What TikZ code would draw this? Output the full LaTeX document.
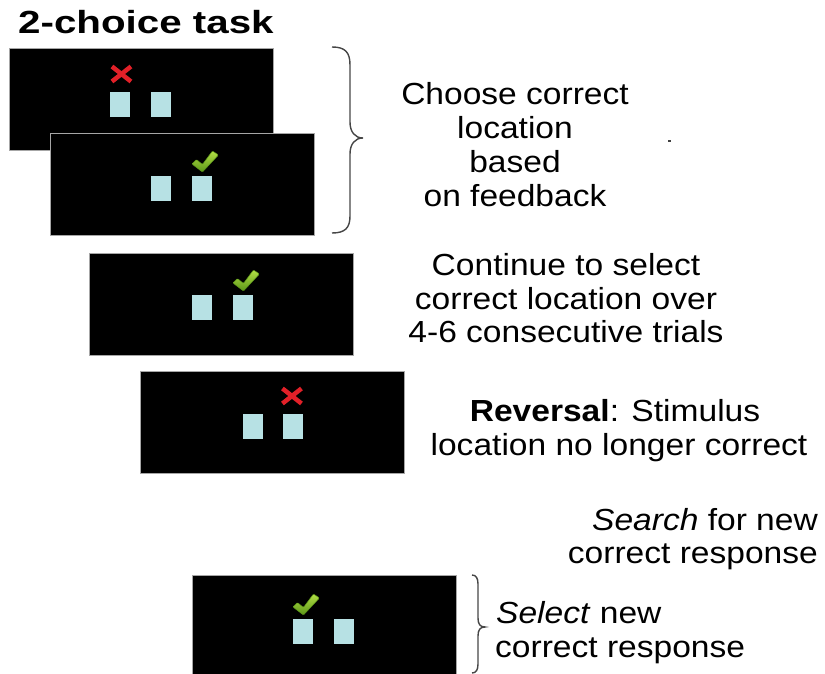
\documentclass[tikz,border=0pt]{standalone}
\usepackage{fontspec}
\setmainfont{Liberation Sans}[FakeStretch=1.1]
\newfontfamily\titlefont{Liberation Sans}[FakeStretch=1.26]
\usetikzlibrary{calc}
\definecolor{sqcol}{RGB}{183,225,228}
\definecolor{xred}{RGB}{226,32,40}
\definecolor{chkA}{RGB}{178,222,70}
\definecolor{chkB}{RGB}{92,150,24}
\definecolor{bracecol}{RGB}{70,70,70}
\tikzset{
  panel/.style={draw=gray!70, line width=0.7pt, fill=black, minimum width=264pt, minimum height=102pt, inner sep=0pt, anchor=north west},
  sq/.style={fill=sqcol, draw=none, minimum width=19.5pt, minimum height=24.5pt, inner sep=0pt, anchor=north west},
  txt/.style={inner sep=0pt, font=\fontsize{30.5}{33.7}\selectfont},
  ttl/.style={inner sep=0pt, font=\titlefont\bfseries\fontsize{32}{36}\selectfont},
  bracestyle/.style={draw=bracecol, line width=1.4pt},
  crosspic/.pic={
    \draw[xred, line width=4.5pt] (-9.5,-7.5) -- (9.5,7.5);
    \draw[xred, line width=4.5pt] (-9.5,7.5) -- (9.5,-7.5);
  },
  checkpic/.pic={
    \shade[top color=chkA, bottom color=chkB, draw=chkB, line width=0.5pt, rounded corners=1pt]
      (0,0) -- (-10.5,-8) -- (-6,-12.5) -- (0,-7.5) -- (10,-21) -- (16,-17) -- cycle;
  }
}
\begin{document}
\begin{tikzpicture}[x=1pt, y=-1pt]
\useasboundingbox (0,0) rectangle (825,674);

% title
\node[ttl, anchor=base west] (title) at (18,33.5) {2-choice task};

% panel 1
\node[panel] (p1) at (9,48) {};
\node[sq] (p1l) at ($(p1.north west)+(101,44)$) {};
\node[sq] (p1r) at ($(p1.north west)+(142,44)$) {};
\pic at ($(p1l.north)+(1.5,-18)$) {crosspic};

% panel 2
\node[panel] (p2) at (50,133) {};
\node[sq] (p2l) at ($(p2.north west)+(101,43)$) {};
\node[sq] (p2r) at ($(p2.north west)+(142,43)$) {};
\pic at ($(p2r.north)+(0.5,-4)$) {checkpic};

% panel 3
\node[panel] (p3) at (89,253) {};
\node[sq] (p3l) at ($(p3.north west)+(103,42)$) {};
\node[sq] (p3r) at ($(p3.north west)+(144,42)$) {};
\pic at ($(p3r.north)+(0.5,-4)$) {checkpic};

% panel 4
\node[panel] (p4) at (140,371) {};
\node[sq] (p4l) at ($(p4.north west)+(103,43)$) {};
\node[sq] (p4r) at ($(p4.north west)+(143,43)$) {};
\pic at ($(p4r.north)+(-1,-18)$) {crosspic};

% panel 5
\node[panel] (p5) at (192,575) {};
\node[sq] (p5l) at ($(p5.north west)+(101,44)$) {};
\node[sq] (p5r) at ($(p5.north west)+(142,44)$) {};
\pic at ($(p5l.north)+(0.5,-4)$) {checkpic};

% braces
\draw[bracestyle] (332,47) .. controls (345,47) and (350,52) .. (350,65) -- (350,122)
  .. controls (350,132) and (355,138) .. (363,138)
  .. controls (355,138) and (350,144) .. (350,154) -- (350,216)
  .. controls (350,228) and (345,233) .. (332,233);
\draw[bracestyle] (472,575) .. controls (476,575) and (478,578) .. (478,584) -- (478,618)
  .. controls (478,624) and (480,627) .. (485,627)
  .. controls (480,627) and (478,630) .. (478,636) -- (478,664)
  .. controls (478,670) and (476,673) .. (472,673);

% tiny mark
\fill[black!75] (667.5,140) rectangle (670.5,142);

% block 1
\node[txt, anchor=base] (b1a) at (515,104.5) {Choose correct};
\node[txt, anchor=base] (b1b) at (515,138.3) {location};
\node[txt, anchor=base] (b1c) at (515,172) {based};
\node[txt, anchor=base] (b1d) at (515,206) {on feedback};

% block 2
\node[txt, anchor=base] (b2a) at (566,275) {Continue to select};
\node[txt, anchor=base] (b2b) at (566,309) {correct location over};
\node[txt, anchor=base] (b2c) at (566,342.5) {4-6 consecutive trials};

% block 3
\node[txt, anchor=base] (b3a) at (615,421.5) {\textbf{Reversal}: Stimulus};
\node[txt, anchor=base] (b3b) at (619,455) {location no longer correct};

% block 4
\node[txt, anchor=base east] (b4a) at (818,530) {\textit{Search} for new};
\node[txt, anchor=base east] (b4b) at (818,563.5) {correct response};

% block 5
\node[txt, anchor=base west] (b5a) at (496,623) {\textit{Select} new};
\node[txt, anchor=base west] (b5b) at (495,657) {correct response};
\end{tikzpicture}
\end{document}
